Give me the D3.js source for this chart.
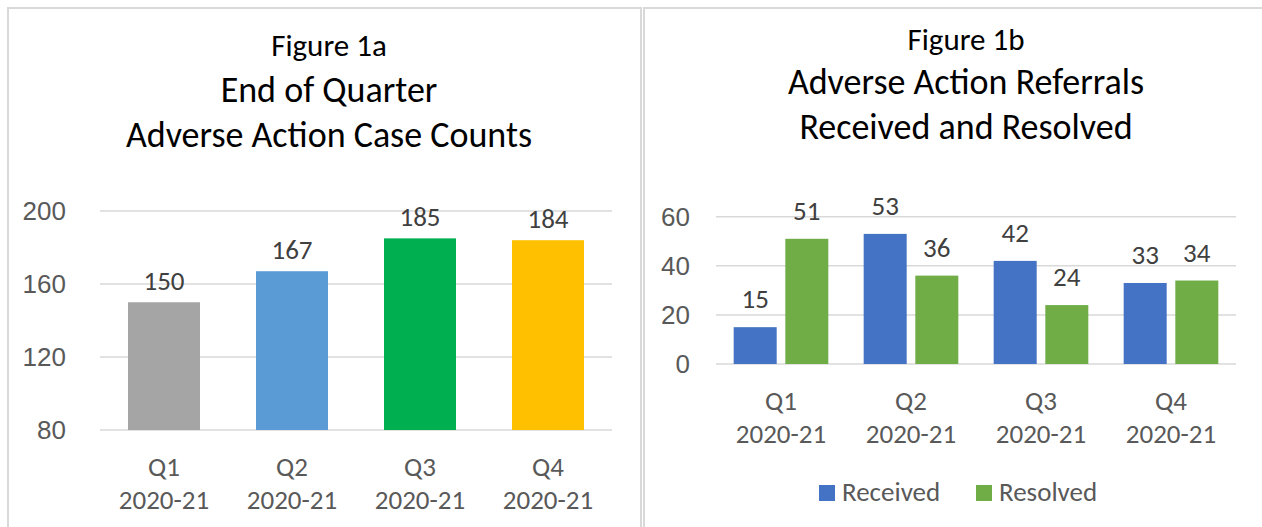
<!DOCTYPE html>
<html>
<head>
<meta charset="utf-8">
<script src="https://cdn.jsdelivr.net/npm/d3@7"></script>
<style>
  body { margin: 0; background: #fff; }
  svg { display: block; font-family: Carlito, Calibri, Lato, sans-serif; }
</style>
</head>
<body>
<div id="chart"></div>
<script>
// data

// figure 1a
var quarters = ["Q1", "Q2", "Q3", "Q4"];
var yearLabel = "2020-21";
var caseCounts = [150, 167, 185, 184];
var caseColors = ["#A5A5A5", "#5B9BD5", "#00B050", "#FFC000"];
var ticksA = [80, 120, 160, 200];

// figure 1b
var seriesNames = ["Received", "Resolved"];
var received = [15, 53, 42, 33];
var resolved = [51, 36, 24, 34];
var seriesColors = ["#4472C4", "#70AD47"];
var ticksB = [0, 20, 40, 60];

var W = 1262, H = 527;
var gridColor = "#d9d9d9";
var tickColor = "#595959";
var labelColor = "#404040";
var fsTick = 26, fsLabel = 27;

var svg = d3.select("#chart").append("svg").attr("width", W).attr("height", H);

// panel frames
svg.append("rect")
  .attr("x", 8).attr("y", 8)
  .attr("width", 633).attr("height", 560)
  .style("fill", "none").style("stroke", gridColor).style("stroke-width", 2);
svg.append("rect")
  .attr("x", 644).attr("y", 8)
  .attr("width", 660).attr("height", 560)
  .style("fill", "none").style("stroke", gridColor).style("stroke-width", 2);

function titles(cx, lines) {
  lines.forEach(function (l) {
    svg.append("text")
      .attr("x", cx).attr("y", l.y)
      .attr("text-anchor", "middle")
      .style("font-size", l.size + "px")
      .style("fill", "#000")
      .text(l.text);
  });
}

// ---------- Figure 1a ----------
titles(329, [
  { text: "Figure 1a", y: 56, size: 31 },
  { text: "End of Quarter", y: 102, size: 36 },
  { text: "Adverse Action Case Counts", y: 147, size: 36 }
]);

var xA = d3.scaleBand().domain(quarters).range([100, 612])
  .paddingInner(0.4375).paddingOuter(0.21875);
var yA = d3.scaleLinear().domain([80, 200]).range([430, 211]);

// gridlines
svg.append("g").selectAll("line")
  .data(ticksA).enter().append("line")
  .attr("x1", 100).attr("x2", 612)
  .attr("y1", function (d) { return yA(d); })
  .attr("y2", function (d) { return yA(d); })
  .style("stroke", gridColor).style("stroke-width", 1.5);

// y axis labels
svg.append("g")
  .attr("transform", "translate(66,0)")
  .call(d3.axisLeft(yA).tickValues(ticksA).tickSize(0).tickPadding(0))
  .call(function (g) { g.select(".domain").remove(); })
  .selectAll("text")
  .style("font-family", null)
  .style("font-size", fsTick + "px")
  .style("fill", tickColor);

// bars
svg.append("g").selectAll("rect")
  .data(caseCounts).enter().append("rect")
  .attr("x", function (d, i) { return xA(quarters[i]); })
  .attr("y", function (d) { return yA(d); })
  .attr("width", xA.bandwidth())
  .attr("height", function (d) { return yA(80) - yA(d); })
  .style("fill", function (d, i) { return caseColors[i]; });

// value labels
svg.append("g").selectAll("text")
  .data(caseCounts).enter().append("text")
  .attr("x", function (d, i) { return xA(quarters[i]) + xA.bandwidth() / 2; })
  .attr("y", function (d) { return yA(d) - 12; })
  .attr("text-anchor", "middle")
  .style("font-size", fsLabel + "px")
  .style("fill", labelColor)
  .text(function (d) { return d; });

// category labels
var catA = svg.append("g").selectAll("text")
  .data(quarters).enter().append("text")
  .attr("x", function (d) { return xA(d) + xA.bandwidth() / 2; })
  .attr("y", 476)
  .attr("text-anchor", "middle")
  .style("font-size", fsLabel + "px")
  .style("fill", tickColor);
catA.append("tspan").text(function (d) { return d; });
catA.append("tspan")
  .attr("x", function (d) { return xA(d) + xA.bandwidth() / 2; })
  .attr("dy", 33)
  .text(yearLabel);

// ---------- Figure 1b ----------
titles(966, [
  { text: "Figure 1b", y: 50, size: 31 },
  { text: "Adverse Action Referrals", y: 94, size: 36 },
  { text: "Received and Resolved", y: 139, size: 36 }
]);

var x0 = d3.scaleBand().domain(quarters).range([716, 1236])
  .paddingInner(0.272).paddingOuter(0.136);
var x1 = d3.scaleBand().domain(seriesNames).range([0, x0.bandwidth()])
  .paddingInner(0.167);
var yB = d3.scaleLinear().domain([0, 60]).range([364, 216.7]);

svg.append("g").selectAll("line")
  .data(ticksB).enter().append("line")
  .attr("x1", 716).attr("x2", 1236)
  .attr("y1", function (d) { return yB(d); })
  .attr("y2", function (d) { return yB(d); })
  .style("stroke", gridColor).style("stroke-width", 1.5);

svg.append("g")
  .attr("transform", "translate(690,0)")
  .call(d3.axisLeft(yB).tickValues(ticksB).tickSize(0).tickPadding(0))
  .call(function (g) { g.select(".domain").remove(); })
  .selectAll("text")
  .style("font-family", null)
  .style("font-size", fsTick + "px")
  .style("fill", tickColor);

var rows = quarters.map(function (q, i) {
  return { q: q, values: [received[i], resolved[i]] };
});

var groups = svg.append("g").selectAll("g")
  .data(rows).enter().append("g")
  .attr("transform", function (d) { return "translate(" + x0(d.q) + ",0)"; });

groups.selectAll("rect")
  .data(function (d) {
    return d.values.map(function (v, j) { return { s: seriesNames[j], v: v, j: j }; });
  })
  .enter().append("rect")
  .attr("x", function (d) { return x1(d.s); })
  .attr("y", function (d) { return yB(d.v); })
  .attr("width", x1.bandwidth())
  .attr("height", function (d) { return yB(0) - yB(d.v); })
  .style("fill", function (d) { return seriesColors[d.j]; });

groups.selectAll("text")
  .data(function (d) {
    return d.values.map(function (v, j) { return { s: seriesNames[j], v: v }; });
  })
  .enter().append("text")
  .attr("x", function (d) { return x1(d.s) + x1.bandwidth() / 2; })
  .attr("y", function (d) { return yB(d.v) - 19; })
  .attr("text-anchor", "middle")
  .style("font-size", fsLabel + "px")
  .style("fill", labelColor)
  .text(function (d) { return d.v; });

var catB = svg.append("g").selectAll("text")
  .data(quarters).enter().append("text")
  .attr("x", function (d) { return x0(d) + x0.bandwidth() / 2; })
  .attr("y", 410)
  .attr("text-anchor", "middle")
  .style("font-size", fsLabel + "px")
  .style("fill", tickColor);
catB.append("tspan").text(function (d) { return d; });
catB.append("tspan")
  .attr("x", function (d) { return x0(d) + x0.bandwidth() / 2; })
  .attr("dy", 33)
  .text(yearLabel);

// legend
var legendX = [819, 976];
var legend = svg.append("g").selectAll("g")
  .data(seriesNames).enter().append("g")
  .attr("transform", function (d, i) { return "translate(" + legendX[i] + ",485)"; });
legend.append("rect")
  .attr("width", 16).attr("height", 16)
  .style("fill", function (d, i) { return seriesColors[i]; });
legend.append("text")
  .attr("x", 23).attr("y", 16)
  .style("font-size", fsLabel + "px")
  .style("fill", tickColor)
  .text(function (d) { return d; });
</script>
</body>
</html>
